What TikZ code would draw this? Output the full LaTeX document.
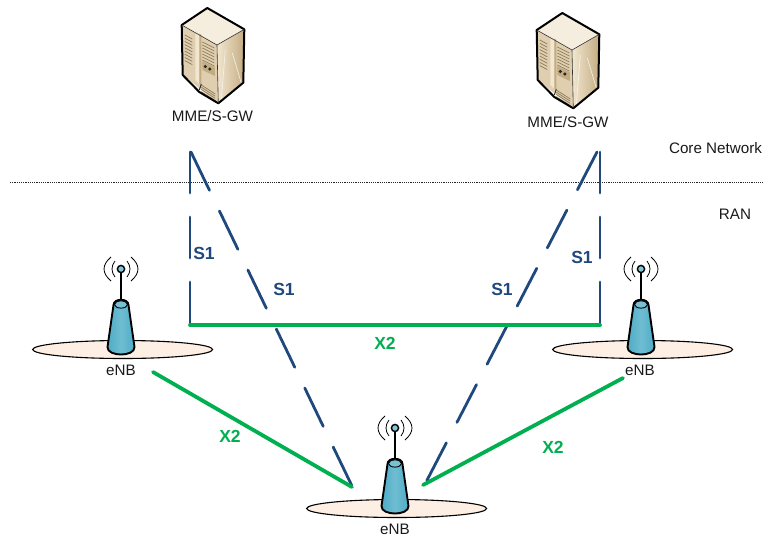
\documentclass[tikz,border=0pt]{standalone}
\usepackage{fontspec}
\setmainfont{Liberation Sans}
\definecolor{sone}{HTML}{1F497D}
\definecolor{xtwo}{HTML}{00B050}
\definecolor{disc}{HTML}{FDEFE4}
\definecolor{tower}{HTML}{4BACC6}
\definecolor{srvA}{HTML}{F1E6D0}
\definecolor{srvB}{HTML}{C4AC82}
\definecolor{srvC}{HTML}{DFCFB0}
\definecolor{srvD}{HTML}{8E7A58}
\tikzset{
  x=1pt,y=-1pt,
  lbl/.style={inner sep=0pt,font=\fontsize{15.2}{15}\selectfont,text=black!90},
  slbl/.style={inner sep=0pt,font=\fontsize{17.5}{17}\selectfont\bfseries,text=sone},
  xlbl/.style={inner sep=0pt,font=\fontsize{17.5}{17}\selectfont\bfseries,text=xtwo},
  sline/.style={draw=sone,line width=2.8pt,line cap=round,dash pattern=on 41pt off 24pt},
  sdiag/.style={draw=sone,line width=2.8pt,line cap=round,dash pattern=on 42.5pt off 23pt},
  xline/.style={draw=xtwo,line width=3.8pt,line cap=round},
  pics/server/.style={code={
    \shade[left color=srvA,right color=srvB] (9.7,37) -- (37,21.3) -- (36,74.7) -- (11,95.3) -- cycle;
    \draw[white!85!srvB,line width=.6pt] (18,42) -- (14,92);
    \draw[white!85!srvB,line width=.6pt] (25,45) -- (34,75);
    \fill[srvA!70!white] (0,0) -- (37,21.3) -- (9.7,37) -- (-25.6,17) -- cycle;
    \fill[srvC] (-25.6,17) -- (9.7,37) -- (11,95.3) -- (-24.6,67) -- cycle;
    \fill[srvA] (-12,23) -- (-8,25.5) -- (-8,76) -- (-12,72) -- cycle;
    \fill[srvB] (-8,25.5) -- (-6,27) -- (-6,76) -- (-8,76) -- cycle;
    \foreach \k in {0,...,8}{
      \draw[srvD,line width=.7pt] (-22.5,{27+\k*3.2}) -- (-15,{31+\k*3.2});
      \draw[srvD,line width=.7pt] (-5,{34+\k*3}) -- (7,{40+\k*3});
    }
    \fill[srvB] (-5,53) -- (7.5,59) -- (7.5,68) -- (-5,62) -- cycle;
    \fill[black!85] (-2,58.5) circle (1.7) (2.5,61) circle (1.7);
    \foreach \k in {0,...,3}{
      \draw[srvD,line width=.7pt] (-6,{77+\k*2.2}) -- (8,{86+\k*2.2});
    }
    \draw[black!85,line width=.9pt] (-6,76) -- (-8,82);
    \draw[black,line width=2pt,line join=round] (0,0) -- (37,21.3) -- (36,74.7) -- (11,95.3) -- (-8,84) -- (-24.6,67) -- (-25.6,17) -- cycle;
    \draw[black!80,line width=.6pt] (-25.6,17) -- (9.7,37) -- (37,21.3);
    \draw[black!80,line width=.6pt] (9.7,37) -- (11,95.3);
  }},
  pics/enb/.style={code={
    \draw[black,line width=1.1pt,fill=disc] (1.7,80.5) ellipse [x radius=90,y radius=9];
    \draw[black,line width=1.5pt] (0,0) -- (0,32);
    \shade[left color=tower,right color=tower,middle color=tower!80!white,draw=black,line width=1.9pt,line join=round]
      (-7.5,36) .. controls (-7.5,29) and (7.5,29) .. (7.5,36)
      -- (13.5,78) .. controls (14,88) and (-14,88) .. (-13.5,78) -- cycle;
    \draw[black,line width=.9pt,fill=tower!75!white] (0,35.5) ellipse [x radius=6.5,y radius=3.6];
    \draw[black,line width=1.4pt,fill=tower!70!white] (0,0) circle (3.6);
    \draw[black,line width=.8pt] (-6,-8) .. controls (-10,-3) and (-10,3) .. (-6,8);
    \draw[black,line width=.8pt] (6,-8) .. controls (10,-3) and (10,3) .. (6,8);
    \draw[black,line width=.8pt] (-10,-12) .. controls (-19.3,-4) and (-19.3,4) .. (-10,12);
    \draw[black,line width=.8pt] (10,-12) .. controls (19.3,-4) and (19.3,4) .. (10,12);
  }}
}
\begin{document}
\begin{tikzpicture}
\useasboundingbox (0,0) rectangle (763,536);
\coordinate (core) at (10,182);
\coordinate (coreR) at (763,182);
\draw[black!85,line width=.9pt,dash pattern=on 1.1pt off 1.1pt] (core) -- (coreR);
\pic at (207.3,8) {server};
\pic at (562.3,13) {server};
\node[lbl] (mmeL) at (212.5,116) {MME/S-GW};
\node[lbl] (mmeR) at (568,122) {MME/S-GW};
\node[lbl] (corelbl) at (715.5,148) {Core Network};
\node[lbl] (ranlbl) at (735,214) {RAN};
\pic at (121,269) {enb};
\pic at (641,269) {enb};
\pic at (395,428) {enb};
\node[lbl] (enbL) at (121,370) {eNB};
\node[lbl] (enbR) at (640,370) {eNB};
\node[lbl] (enbB) at (395,529) {eNB};
\coordinate (sLt) at (190,152);
\coordinate (sLb) at (190,325);
\coordinate (sRt) at (600,152);
\coordinate (sRb) at (600,325);
\coordinate (dLt) at (191,152);
\coordinate (dLb) at (352,486);
\coordinate (dRt) at (597,152);
\coordinate (dRb) at (424,486);
\coordinate (xL) at (153,372);
\coordinate (xLb) at (352,487);
\coordinate (xR) at (623,378);
\coordinate (xRb) at (423,485);
\draw[sline] (sLt) -- (sLb);
\draw[sline] (sRt) -- (sRb);
\draw[sdiag] (dLt) -- (dLb);
\draw[sdiag] (dRt) -- (dRb);
\draw[xline] (sLb) -- (sRb);
\draw[xline] (xL) -- (xLb);
\draw[xline] (xR) -- (xRb);
\node[slbl] (s1a) at (204,253) {S1};
\node[slbl] (s1b) at (284,289) {S1};
\node[slbl] (s1c) at (502,289) {S1};
\node[slbl] (s1d) at (582,257) {S1};
\node[xlbl] (x2a) at (385,343) {X2};
\node[xlbl] (x2b) at (230,436) {X2};
\node[xlbl] (x2c) at (553,447) {X2};
\end{tikzpicture}
\end{document}
